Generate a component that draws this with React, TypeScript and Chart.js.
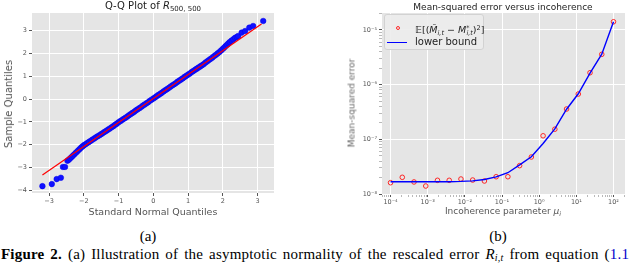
import React, { useEffect, useRef } from "react";
import { Chart, registerables } from "chart.js";
Chart.register(...registerables);

// ---------- Data: Q-Q plot ----------
const qqTheoretical = [
  -3.19, -2.92, -2.78, -2.66, -2.6, -2.54, -2.47, -2.43, -2.39, -2.35, -2.31, -2.27, -2.23, -2.19, -2.15, -2.11,
  -2.07, -2.03, -1.99, -1.95, -1.9, -1.85, -1.8, -1.75, -1.7, -1.65, -1.6, -1.55, -1.5, -1.45, -1.4, -1.35, -1.3,
  -1.25, -1.2, -1.15, -1.1, -1.05, -1.0, -0.95, -0.9, -0.85, -0.8, -0.75, -0.7, -0.65, -0.6, -0.55, -0.5, -0.45,
  -0.4, -0.35, -0.3, -0.25, -0.2, -0.15, -0.1, -0.05, 0.0, 0.05, 0.1, 0.15, 0.2, 0.25, 0.3, 0.35, 0.4, 0.45, 0.5,
  0.55, 0.6, 0.65, 0.7, 0.75, 0.8, 0.85, 0.9, 0.95, 1.0, 1.05, 1.1, 1.15, 1.2, 1.25, 1.3, 1.35, 1.4, 1.45, 1.5,
  1.55, 1.6, 1.65, 1.7, 1.75, 1.8, 1.85, 1.9, 1.95, 2.0, 2.04, 2.08, 2.12, 2.16, 2.2, 2.25, 2.3, 2.35, 2.4, 2.44,
  2.54, 2.64, 2.76, 2.87, 3.16,
];
const qqSample = [
  -3.82, -3.73, -3.51, -3.45, -2.98, -2.98, -2.71, -2.66, -2.6, -2.54, -2.48, -2.42, -2.36, -2.3, -2.24, -2.18,
  -2.12, -2.07, -2.02, -1.98, -1.93, -1.88, -1.83, -1.78, -1.73, -1.68, -1.63, -1.59, -1.54, -1.49, -1.44, -1.39,
  -1.34, -1.29, -1.24, -1.19, -1.13, -1.08, -1.02, -0.97, -0.92, -0.87, -0.82, -0.77, -0.71, -0.66, -0.61, -0.56,
  -0.5, -0.45, -0.4, -0.35, -0.29, -0.24, -0.19, -0.14, -0.08, -0.03, 0.02, 0.07, 0.13, 0.18, 0.23, 0.28, 0.34,
  0.39, 0.44, 0.49, 0.55, 0.6, 0.65, 0.7, 0.76, 0.81, 0.86, 0.91, 0.97, 1.02, 1.07, 1.12, 1.18, 1.23, 1.28, 1.33,
  1.38, 1.43, 1.48, 1.53, 1.6, 1.65, 1.71, 1.76, 1.82, 1.88, 1.94, 2.0, 2.06, 2.13, 2.2, 2.26, 2.32, 2.38, 2.44,
  2.5, 2.56, 2.62, 2.68, 2.72, 2.76, 2.91, 2.98, 3.13, 3.2, 3.42,
];
const qqLineX = [-3.19, 3.11];
const qqLineY = [-3.33, 3.29];
const qqXTicks = [-3, -2, -1, 0, 1, 2, 3];
const qqYTicks = [-4, -3, -2, -1, 0, 1, 2, 3];

// ---------- Data: MSE vs incoherence ----------
const mu = [
  1.0e-4, 2.069e-4, 4.281e-4, 8.859e-4, 1.833e-3, 3.793e-3, 7.848e-3, 1.624e-2, 3.36e-2, 6.952e-2, 0.1438, 0.2976,
  0.6158, 1.274, 2.637, 5.456, 11.29, 23.36, 48.33, 100,
];
const mse = [
  1.61e-8, 2.02e-8, 1.66e-8, 1.4e-8, 1.78e-8, 1.78e-8, 1.88e-8, 1.8e-8, 1.73e-8, 2.07e-8, 2.07e-8, 3.3e-8, 4.75e-8,
  1.16e-7, 1.53e-7, 3.58e-7, 6.73e-7, 1.65e-6, 3.58e-6, 1.41e-5,
];
const lowerBound = [
  1.68e-8, 1.68e-8, 1.68e-8, 1.68e-8, 1.68e-8, 1.68e-8, 1.7e-8, 1.74e-8, 1.84e-8, 2.05e-8, 2.45e-8, 3.4e-8, 4.8e-8,
  8.4e-8, 1.55e-7, 3.55e-7, 6.8e-7, 1.62e-6, 3.6e-6, 1.41e-5,
];
const muMajorTicks = [1e-4, 1e-3, 1e-2, 1e-1, 1, 10, 100];
const muTickLabels = ["10⁻⁴", "10⁻³", "10⁻²", "10⁻¹", "10⁰", "10¹", "10²"];
const mseMajorTicks = [1e-8, 1e-7, 1e-6, 1e-5];
const mseTickLabels = ["10⁻⁸", "10⁻⁷", "10⁻⁶", "10⁻⁵"];

// ---------- helpers ----------
const TICK_FONT = { family: "DejaVu Sans", size: 6.5 };
const TICK_COLOR = "#555";
const PLOT_BG = "#e5e5e5";

const bgPlugin = {
  id: "plotBg",
  beforeDraw(chart: any) {
    const { ctx, chartArea: a } = chart;
    ctx.save();
    ctx.fillStyle = PLOT_BG;
    ctx.fillRect(a.left, a.top, a.right - a.left, a.bottom - a.top);
    ctx.restore();
  },
};

const minus = (v: number) => (v < 0 ? "\u2212" + Math.abs(v) : String(v));

const isPow10 = (v: number) => {
  const l = Math.log10(v);
  return Math.abs(l - Math.round(l)) < 1e-6;
};

function logTicksWithMinors(min: number, max: number) {
  const out: number[] = [];
  const e0 = Math.floor(Math.log10(min));
  const e1 = Math.ceil(Math.log10(max));
  for (let e = e0; e <= e1; e++) {
    for (let m = 1; m <= 9; m++) {
      const v = m * Math.pow(10, e);
      if (v >= min && v <= max) out.push(v);
    }
  }
  return out;
}

function labelFor(v: number, majors: number[], labels: string[]) {
  for (let i = 0; i < majors.length; i++) {
    if (Math.abs(Math.log10(v) - Math.log10(majors[i])) < 1e-6) return labels[i];
  }
  return "";
}

const QQ_X_MIN = -3.49, QQ_X_MAX = 3.47, QQ_Y_MIN = -4.12, QQ_Y_MAX = 3.77;
const MU_MIN = 5.89e-5, MU_MAX = 204;
const MSE_MIN = 1e-8, MSE_MAX = 2.04e-5;

function QQChart() {
  const ref = useRef<HTMLCanvasElement>(null);
  useEffect(() => {
    const chart = new Chart(ref.current as HTMLCanvasElement, {
      type: "scatter",
      data: {
        datasets: [
          {
            type: "line",
            data: qqLineX.map((x, i) => ({ x, y: qqLineY[i] })),
            borderColor: "#ff0000",
            borderWidth: 1.2,
            pointRadius: 0,
            showLine: true,
            fill: false,
          } as any,
          {
            data: qqTheoretical.map((x, i) => ({ x, y: qqSample[i] })),
            pointRadius: 2.8,
            backgroundColor: "#1010ff",
            borderColor: "#0000ee",
            borderWidth: 0.5,
          },
        ],
      },
      options: {
        animation: false,
        responsive: false,
        events: [],
        layout: { padding: { left: 0, top: 13, right: 16, bottom: 0 }, autoPadding: false } as any,
        plugins: { legend: { display: false }, tooltip: { enabled: false }, title: { display: false } },
        scales: {
          x: {
            type: "linear",
            min: QQ_X_MIN,
            max: QQ_X_MAX,
            afterBuildTicks: (s: any) => {
              s.ticks = qqXTicks.map((v) => ({ value: v }));
            },
            afterFit: (s: any) => {
              s.height = 29;
            },
            grid: { color: "#ffffff", lineWidth: 1, tickColor: TICK_COLOR, tickLength: 3 },
            border: { display: false },
            ticks: { font: TICK_FONT, color: TICK_COLOR, padding: 1, maxRotation: 0, autoSkip: false, callback: (v: any) => minus(Number(v)) },
          },
          y: {
            type: "linear",
            min: QQ_Y_MIN,
            max: QQ_Y_MAX,
            afterBuildTicks: (s: any) => {
              s.ticks = qqYTicks.map((v) => ({ value: v }));
            },
            afterFit: (s: any) => {
              s.width = 32;
            },
            grid: { color: "#ffffff", lineWidth: 1, tickColor: TICK_COLOR, tickLength: 3 },
            border: { display: false },
            ticks: { font: TICK_FONT, color: TICK_COLOR, padding: 2, autoSkip: false, callback: (v: any) => minus(Number(v)) },
          },
        },
      } as any,
      plugins: [bgPlugin],
    });
    return () => chart.destroy();
  }, []);
  return <canvas ref={ref} width={290} height={222} style={{ position: "absolute", left: 0, top: 0, width: 290, height: 222 }} />;
}

function MSEChart() {
  const ref = useRef<HTMLCanvasElement>(null);
  useEffect(() => {
    const chart = new Chart(ref.current as HTMLCanvasElement, {
      type: "scatter",
      data: {
        datasets: [
          {
            type: "line",
            data: mu.map((x, i) => ({ x, y: lowerBound[i] })),
            borderColor: "#0000ff",
            borderWidth: 1.4,
            pointRadius: 0,
            showLine: true,
            fill: false,
            tension: 0,
          } as any,
          {
            data: mu.map((x, i) => ({ x, y: mse[i] })),
            pointRadius: 2.3,
            pointStyle: "circle",
            backgroundColor: "rgba(0,0,0,0)",
            borderColor: "rgba(255,20,20,0.9)",
            borderWidth: 1,
          },
        ],
      },
      options: {
        animation: false,
        responsive: false,
        events: [],
        layout: { padding: { left: 0, top: 13, right: 15, bottom: 0 }, autoPadding: false } as any,
        plugins: { legend: { display: false }, tooltip: { enabled: false }, title: { display: false } },
        scales: {
          x: {
            type: "logarithmic",
            min: MU_MIN,
            max: MU_MAX,
            afterBuildTicks: (s: any) => {
              s.ticks = logTicksWithMinors(MU_MIN, MU_MAX).map((v) => ({ value: v }));
            },
            afterFit: (s: any) => {
              s.height = 28;
            },
            grid: {
              color: (c: any) => (c.tick && isPow10(c.tick.value) ? "#ffffff" : "rgba(0,0,0,0)"),
              lineWidth: 1,
              tickColor: (c: any) => (c.tick && isPow10(c.tick.value) ? TICK_COLOR : "#8a8a8a"),
              tickWidth: (c: any) => (c.tick && isPow10(c.tick.value) ? 1 : 0.6),
              tickLength: 3,
            },
            border: { display: false },
            ticks: {
              font: TICK_FONT,
              color: TICK_COLOR,
              padding: 1,
              maxRotation: 0,
              autoSkip: false,
              callback: (v: any) => labelFor(Number(v), muMajorTicks, muTickLabels),
            },
          },
          y: {
            type: "logarithmic",
            min: MSE_MIN,
            max: MSE_MAX,
            afterBuildTicks: (s: any) => {
              s.ticks = logTicksWithMinors(MSE_MIN, MSE_MAX).map((v) => ({ value: v }));
            },
            afterFit: (s: any) => {
              s.width = 52;
            },
            grid: {
              color: (c: any) => (c.tick && isPow10(c.tick.value) ? "#ffffff" : "rgba(0,0,0,0)"),
              lineWidth: 1,
              tickColor: (c: any) => (c.tick && isPow10(c.tick.value) ? TICK_COLOR : "#8a8a8a"),
              tickWidth: (c: any) => (c.tick && isPow10(c.tick.value) ? 1 : 0.6),
              tickLength: 3,
            },
            border: { display: false },
            ticks: {
              font: TICK_FONT,
              color: TICK_COLOR,
              padding: 2,
              autoSkip: false,
              callback: (v: any) => labelFor(Number(v), mseMajorTicks, mseTickLabels),
            },
          },
        },
      } as any,
      plugins: [bgPlugin],
    });
    return () => chart.destroy();
  }, []);
  return <canvas ref={ref} width={310} height={222} style={{ position: "absolute", left: 330, top: 0, width: 310, height: 222 }} />;
}

const sans = "'DejaVu Sans', sans-serif";
const serif = "'Liberation Serif', 'DejaVu Serif', serif";

function Centered({ x, y, size, color, rotate, family, children }: any) {
  return (
    <div
      style={{
        position: "absolute",
        left: x,
        top: y,
        transform: `translate(-50%, -50%)${rotate ? " rotate(-90deg)" : ""}`,
        whiteSpace: "nowrap",
        fontFamily: family || sans,
        fontSize: size,
        lineHeight: 1,
        color: color || "#555",
      }}
    >
      {children}
    </div>
  );
}

export default function App() {
  return (
    <div style={{ position: "fixed", left: 0, top: 0, width: 640, height: 263, overflow: "hidden", background: "#fff" }}>
      <QQChart />
      <MSEChart />

      {/* Left titles */}
      <Centered x={153} y={7} size={10} color="#222">
        Q-Q Plot of <i>R</i>
        <sub style={{ fontSize: 7, verticalAlign: "-2px" }}>500, 500</sub>
      </Centered>
      <Centered x={9} y={104} size={10} rotate>
        Sample Quantiles
      </Centered>
      <Centered x={153} y={212} size={9.5}>
        Standard Normal Quantiles
      </Centered>

      {/* Right titles */}
      <Centered x={503} y={7} size={9} color="#222">
        Mean-squared error versus incoherence
      </Centered>
      <Centered x={352} y={103} size={9} color="#666" rotate>
        Mean-squared error
      </Centered>
      <Centered x={503} y={212} size={9}>
        Incoherence parameter <i>μ</i>
        <sub style={{ fontSize: 6.5, verticalAlign: "-2px" }}>
          <i>i</i>
        </sub>
      </Centered>

      {/* Legend */}
      <div
        style={{
          position: "absolute",
          left: 384,
          top: 14,
          width: 100,
          height: 36,
          background: "rgba(236,236,236,0.9)",
          border: "1px solid #d2d2d2",
          borderRadius: 3,
          boxSizing: "border-box",
        }}
      />
      <div
        style={{
          position: "absolute",
          left: 396,
          top: 25.7,
          width: 4,
          height: 4,
          borderRadius: "50%",
          border: "1px solid rgba(255,20,20,0.9)",
          boxSizing: "border-box",
        }}
      />
      <div style={{ position: "absolute", left: 387, top: 41.6, width: 20, height: 1.4, background: "#0000ff" }} />
      <div style={{ position: "absolute", left: 415, top: 22, fontFamily: sans, fontSize: 9.5, lineHeight: "12px", color: "#222", whiteSpace: "nowrap" }}>
        𝔼[(<i>M̂</i>
        <sub style={{ fontSize: 6.5, verticalAlign: "-2px" }}>
          <i>i,t</i>
        </sub>
        {" − "}
        <i>M</i>
        <sup style={{ fontSize: 6.5, verticalAlign: "3px" }}>*</sup>
        <sub style={{ fontSize: 6.5, verticalAlign: "-2px", marginLeft: -3 }}>
          <i>i,t</i>
        </sub>
        )<sup style={{ fontSize: 6.5, verticalAlign: "3px" }}>2</sup>]
      </div>
      <div style={{ position: "absolute", left: 415, top: 36, fontFamily: sans, fontSize: 10, lineHeight: "12px", color: "#222", whiteSpace: "nowrap" }}>
        lower bound
      </div>

      {/* Sub-captions */}
      <Centered x={148} y={236} size={15} color="#000" family={serif}>
        (a)
      </Centered>
      <Centered x={498} y={236} size={15} color="#000" family={serif}>
        (b)
      </Centered>

      {/* Figure caption (cut by the image edge) */}
      <div
        style={{
          position: "absolute",
          left: 1,
          top: 247,
          fontFamily: serif,
          fontSize: 15,
          lineHeight: "15px",
          color: "#000",
          whiteSpace: "nowrap",
          wordSpacing: 2,
          letterSpacing: 0.2,
        }}
      >
        <b>Figure 2.</b> (a) Illustration of the asymptotic normality of the rescaled error <i>R</i>
        <sub style={{ fontSize: 10, verticalAlign: "-2px" }}>
          <i>i,t</i>
        </sub>{" "}
        from equation (<span style={{ color: "#0000cc" }}>1.1</span>
      </div>
    </div>
  );
}
